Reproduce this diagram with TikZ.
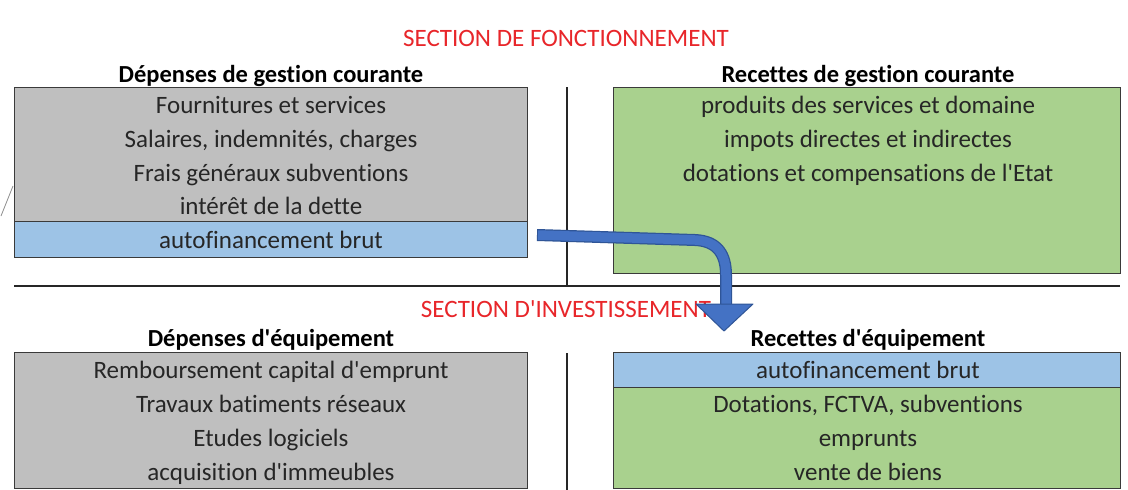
\documentclass[tikz,border=0pt]{standalone}
\usepackage{fontspec}
\setmainfont{Carlito}[Ligatures={TeXOff,NoCommon}]
\definecolor{grayfill}{HTML}{BFBFBF}
\definecolor{greenfill}{HTML}{A9D18E}
\definecolor{bluefill}{HTML}{9DC3E6}
\definecolor{secred}{HTML}{E8262A}
\definecolor{arrowblue}{HTML}{4472C4}
\definecolor{arrowdark}{HTML}{2F5597}
\definecolor{edge}{HTML}{3A3A3A}
\tikzset{
  box/.style={draw=edge, line width=1.3pt, rectangle, inner sep=0pt, anchor=north west},
  txt/.style={text height=16pt, text depth=0pt, anchor=center},
  row/.style={txt, font=\fontsize{25}{28}\selectfont, text=black!85},
  head/.style={txt, font=\fontsize{24.5}{28}\selectfont\bfseries, text=black},
  sect/.style={txt, font=\fontsize{25}{28}\selectfont, text=secred},
  sep/.style={draw=black!85, line width=1.4pt},
}
\begin{document}
\begin{tikzpicture}[x=1pt,y=-1pt]
\useasboundingbox (0,0) rectangle (1128,490);
\fill[white] (0,0) rectangle (1128,490);
% small artifact at left edge
\draw[black!45, line width=0.8pt] (1,216) -- (13,186);
% section titles
\node[sect] (s1) at (566,38) {SECTION DE FONCTIONNEMENT};
\node[sect] (s2) at (566,309) {SECTION D'INVESTISSEMENT};
% headers
\node[head] (h1) at (271,74) {Dépenses de gestion courante};
\node[head] (h2) at (868,74) {Recettes de gestion courante};
\node[head] (h3) at (271,338) {Dépenses d'équipement};
\node[head] (h4) at (868,338) {Recettes d'équipement};
% top-left box
\node[box, fill=grayfill, minimum width=513pt, minimum height=134pt] (bTL) at (14,87) {};
\node[box, fill=bluefill, minimum width=513pt, minimum height=36pt] (autoL) at (14,221) {};
\node[row] (r1) at (271,105) {Fournitures et services};
\node[row] (r2) at (271,139) {Salaires, indemnités, charges};
\node[row] (r3) at (271,173) {Frais généraux subventions};
\node[row] (r4) at (271,206) {intérêt de la dette};
\node[row] (r5) at (271,240) {autofinancement brut};
% top-right box
\node[box, fill=greenfill, minimum width=507pt, minimum height=186pt] (bTR) at (613,87) {};
\node[row] (q1) at (868,105) {produits des services et domaine};
\node[row] (q2) at (868,139) {impots directes et indirectes};
\node[row] (q3) at (868,173) {dotations et compensations de l'Etat};
% bottom-left box
\node[box, fill=grayfill, minimum width=513pt, minimum height=136pt] (bBL) at (14,352) {};
\node[row] (p1) at (271,370) {Remboursement capital d'emprunt};
\node[row] (p2) at (271,404) {Travaux batiments réseaux};
\node[row] (p3) at (271,438) {Etudes logiciels};
\node[row] (p4) at (271,472) {acquisition d'immeubles};
% bottom-right box
\node[box, fill=greenfill, minimum width=507pt, minimum height=101pt] (bBR) at (613,387) {};
\node[box, fill=bluefill, minimum width=507pt, minimum height=35pt] (autoR) at (613,352) {};
\node[row] (t1) at (868,370) {autofinancement brut};
\node[row] (t2) at (868,404) {Dotations, FCTVA, subventions};
\node[row] (t3) at (868,438) {emprunts};
\node[row] (t4) at (868,472) {vente de biens};
% separators
\coordinate (vt1) at (567,87);
\coordinate (vt2) at (567,286);
\coordinate (vb1) at (567,353);
\coordinate (vb2) at (567,490);
\coordinate (hl) at (14,286);
\coordinate (hr) at (1120,286);
\draw[sep] (vt1) -- (vt2);
\draw[sep] (vb1) -- (vb2);
\draw[sep] (hl) -- (hr);
% curved arrow
\coordinate (a0) at (537,235);
\coordinate (a1) at (695,240);
\coordinate (a2) at (726,275);
\coordinate (a3) at (726,307);
\coordinate (tip) at (724,331);
\draw[arrowdark, line width=12pt] (a0) -- (a1) .. controls (718,241) and (726,255) .. (a2) -- (a3);
\draw[arrowblue, line width=9.5pt] ([xshift=1pt]a0) -- (a1) .. controls (718,241) and (726,255) .. (a2) -- ([yshift=1pt]a3);
\filldraw[fill=arrowblue, draw=arrowdark, line width=1pt, line join=round] (696,304) -- (753,304) -- (tip) -- cycle;
\end{tikzpicture}
\end{document}
